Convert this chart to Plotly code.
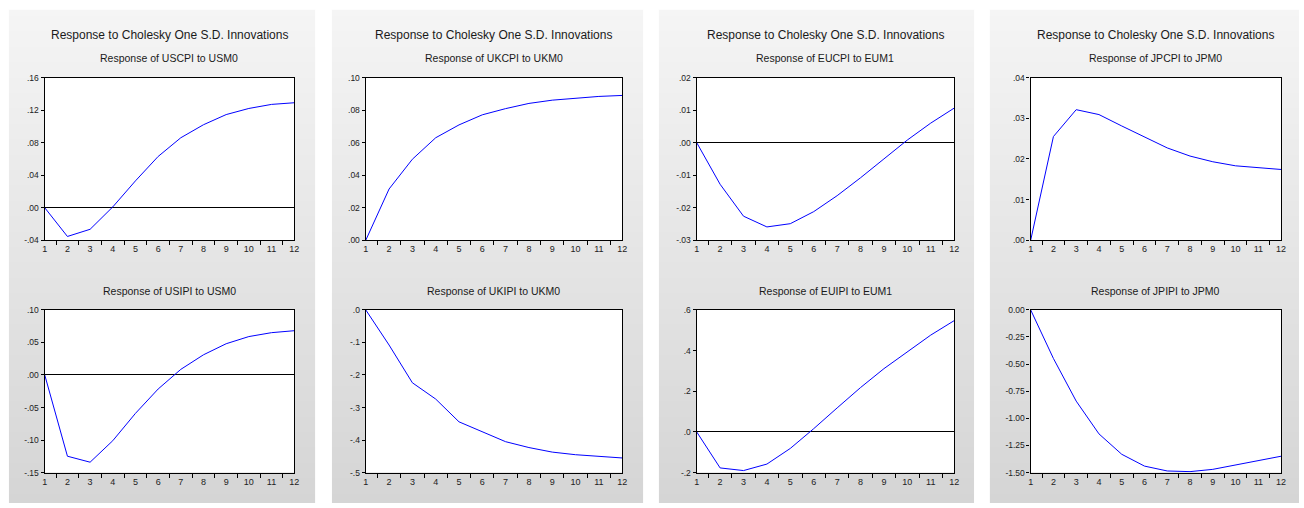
import base64, struct, zlib
import plotly.graph_objects as go

# ---------------- data ----------------
periods = [str(i) for i in range(1, 13)]

us_cpi = [0.0, -0.0353, -0.0265, 0.001, 0.033, 0.063, 0.086, 0.102, 0.1145, 0.122, 0.127, 0.129]
us_ipi = [0.0, -0.1248, -0.134, -0.101, -0.059, -0.0216, 0.0086, 0.031, 0.048, 0.059, 0.065, 0.068]
uk_cpi = [0.0, 0.0315, 0.0498, 0.063, 0.0709, 0.0771, 0.0809, 0.0841, 0.0861, 0.0873, 0.0884, 0.089]
uk_ipi = [0.0, -0.108, -0.224, -0.274, -0.344, -0.375, -0.405, -0.423, -0.437, -0.445, -0.451, -0.455]
eu_cpi = [0.0, -0.0128, -0.0226, -0.0259, -0.0249, -0.0212, -0.0163, -0.0108, -0.005, 0.0008, 0.006, 0.0106]
eu_ipi = [0.0, -0.177, -0.19, -0.158, -0.081, 0.016, 0.118, 0.218, 0.311, 0.395, 0.476, 0.547]
jp_cpi = [0.0, 0.0255, 0.0321, 0.0309, 0.0281, 0.0253, 0.0227, 0.0207, 0.0193, 0.0183, 0.0178, 0.0174]
jp_ipi = [0.0, -0.448, -0.841, -1.143, -1.331, -1.44, -1.485, -1.491, -1.47, -1.43, -1.39, -1.349]

main_title = "Response to Cholesky One S.D. Innovations"
sub_titles = [
    ["Response of USCPI to USM0", "Response of USIPI to USM0"],
    ["Response of UKCPI to UKM0", "Response of UKIPI to UKM0"],
    ["Response of EUCPI to EUM1", "Response of EUIPI to EUM1"],
    ["Response of JPCPI to JPM0", "Response of JPIPI to JPM0"],
]
series = [[us_cpi, us_ipi], [uk_cpi, uk_ipi], [eu_cpi, eu_ipi], [jp_cpi, jp_ipi]]

y_tickvals = [
    [[-0.04, 0.0, 0.04, 0.08, 0.12, 0.16], [-0.15, -0.10, -0.05, 0.0, 0.05, 0.10]],
    [[0.0, 0.02, 0.04, 0.06, 0.08, 0.10], [-0.5, -0.4, -0.3, -0.2, -0.1, 0.0]],
    [[-0.03, -0.02, -0.01, 0.0, 0.01, 0.02], [-0.2, 0.0, 0.2, 0.4, 0.6]],
    [[0.0, 0.01, 0.02, 0.03, 0.04], [-1.5, -1.25, -1.0, -0.75, -0.5, -0.25, 0.0]],
]
y_ticktext = [
    [["-.04", ".00", ".04", ".08", ".12", ".16"], ["-.15", "-.10", "-.05", ".00", ".05", ".10"]],
    [[".00", ".02", ".04", ".06", ".08", ".10"], ["-.5", "-.4", "-.3", "-.2", "-.1", ".0"]],
    [["-.03", "-.02", "-.01", ".00", ".01", ".02"], ["-.2", ".0", ".2", ".4", ".6"]],
    [[".00", ".01", ".02", ".03", ".04"], ["-1.50", "-1.25", "-1.00", "-0.75", "-0.50", "-0.25", "0.00"]],
]

# ---------------- layout geometry (pixels) ----------------
W, H = 1304, 508
panel_x = [(6, 314), (331, 644), (660, 977), (993, 1304)]
panel_y = (5, 508)
plot_x = [(42, 293), (365, 623), (698, 957), (1034, 1286)]
plot_y = [(74, 240), (311, 477)]
FONT = "Liberation Sans, Arial, sans-serif"


def gradient_png(h, top, bottom):
    raw = b""
    for r in range(h):
        v = int(round(top + (bottom - top) * r / (h - 1)))
        raw += b"\x00" + bytes([v, v, v])
    def chunk(t, d):
        c = struct.pack(">I", len(d)) + t + d
        return c + struct.pack(">I", zlib.crc32(t + d) & 0xFFFFFFFF)
    png = b"\x89PNG\r\n\x1a\n"
    png += chunk(b"IHDR", struct.pack(">IIBBBBB", 1, h, 8, 2, 0, 0, 0))
    png += chunk(b"IDAT", zlib.compress(raw))
    png += chunk(b"IEND", b"")
    return "data:image/png;base64," + base64.b64encode(png).decode()


grad = gradient_png(128, 245, 213)

fig = go.Figure()
layout = dict(
    width=W, height=H, margin=dict(l=0, r=0, t=0, b=0),
    paper_bgcolor="white", plot_bgcolor="white", showlegend=False,
    font=dict(family=FONT, size=9, color="#222"),
    images=[], annotations=[], shapes=[],
)

idx = 0
for p in range(4):
    px0, px1 = panel_x[p]
    layout["images"].append(dict(
        source=grad, xref="paper", yref="paper",
        x=px0 / W, y=1 - panel_y[0] / H,
        sizex=(px1 - px0) / W, sizey=(panel_y[1] - panel_y[0]) / H,
        xanchor="left", yanchor="top", sizing="stretch", layer="below",
    ))
    x0, x1 = plot_x[p]
    cx = (x0 + x1) / 2 / W
    layout["annotations"].append(dict(
        text=main_title, xref="paper", yref="paper", x=cx, y=1 - 31 / H,
        xanchor="center", yanchor="middle", showarrow=False,
        font=dict(family=FONT, size=12, color="#1a1a1a"),
    ))
    for r in range(2):
        idx += 1
        xa = "xaxis" if idx == 1 else f"xaxis{idx}"
        ya = "yaxis" if idx == 1 else f"yaxis{idx}"
        xr = "x" if idx == 1 else f"x{idx}"
        yr = "y" if idx == 1 else f"y{idx}"
        y0, y1 = plot_y[r]
        tv = y_tickvals[p][r]
        layout["shapes"].append(dict(
            type="rect", xref="paper", yref="paper", layer="below",
            x0=x0 / W, x1=x1 / W, y0=1 - y1 / H, y1=1 - y0 / H,
            fillcolor="white", line=dict(width=0),
        ))
        layout[xa] = dict(
            domain=[x0 / W, x1 / W], anchor=yr, type="category",
            tickson="boundaries", ticks="outside", ticklen=4, tickcolor="black",
            tickwidth=1.2,
            showline=True, mirror=True, linecolor="black", linewidth=1.4,
            showgrid=False, zeroline=False, fixedrange=True,
            tickfont=dict(family=FONT, size=9, color="#222"),
        )
        layout[ya] = dict(
            domain=[1 - y1 / H, 1 - y0 / H], anchor=xr,
            range=[min(tv), max(tv)], tickvals=tv, ticktext=y_ticktext[p][r],
            ticks="outside", ticklen=3, tickcolor="black", tickwidth=1.2,
            showline=True, mirror=True, linecolor="black", linewidth=1.4,
            showgrid=False, zeroline=(min(tv) < 0 < max(tv)),
            zerolinecolor="black", zerolinewidth=1, fixedrange=True,
            tickfont=dict(family=FONT, size=8.5, color="#222"),
        )
        sub_y = 54 if r == 0 else 292
        layout["annotations"].append(dict(
            text=sub_titles[p][r], xref="paper", yref="paper", x=cx, y=1 - sub_y / H,
            xanchor="center", yanchor="middle", showarrow=False,
            font=dict(family=FONT, size=10.5, color="#1a1a1a"),
        ))
        fig.add_trace(go.Scatter(
            x=periods, y=series[p][r], mode="lines",
            line=dict(color="#0000ff", width=1), xaxis=xr, yaxis=yr,
            hoverinfo="x+y",
        ))

fig.update_layout(**layout)
fig.write_html(
    "out.html",
    config={"displayModeBar": False},
    post_script=(
        "document.documentElement.style.overflow='hidden';"
        "document.body.style.margin='0';document.body.style.overflow='hidden';"
    ),
)
